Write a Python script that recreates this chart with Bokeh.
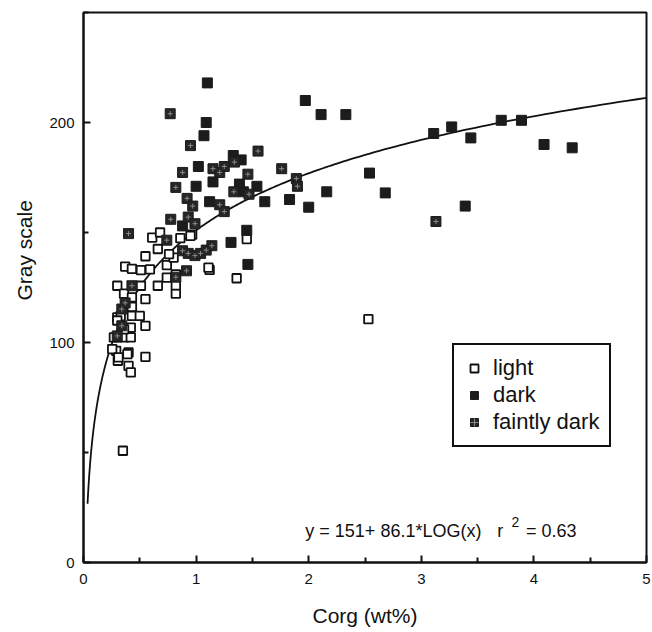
from bokeh.plotting import figure
from bokeh.models import Range1d, FixedTicker, Legend, LegendItem, Label, Title
from bokeh.embed import file_html
from bokeh.resources import INLINE
import numpy as np

# ---- data ----
light_x = [0.61, 0.68, 0.86, 0.965, 0.66, 0.55, 0.37, 0.43, 0.51, 0.59, 0.74, 0.80, 0.76,
           1.12, 1.36, 0.30, 0.36, 0.51, 0.66, 0.82, 0.82, 0.55, 0.43, 0.30, 0.43, 0.43,
           0.50, 0.55, 0.42, 0.30, 0.36, 0.42, 0.29, 0.305, 0.40, 0.55, 0.40, 0.42, 0.35,
           2.53, 1.45, 1.11, 0.74, 0.82, 0.33, 0.30, 0.36, 0.27, 0.255, 0.39, 0.31, 0.95]
light_y = [147.7, 150.0, 147.4, 149.0, 142.5, 139.2, 134.5, 133.5, 132.9, 133.2, 135.2, 138.6, 140.2,
           133.0, 129.2, 125.8, 122.2, 125.8, 125.8, 122.2, 126.0, 119.7, 120.5, 111.4, 116.2, 112.1,
           112.1, 107.6, 106.8, 102.3, 102.3, 102.3, 96.2, 91.7, 95.5, 93.5, 89.4, 86.4, 50.8,
           110.6, 147.0, 134.0, 129.5, 131.0, 112.0, 110.0, 106.0, 102.3, 97.0, 94.7, 93.2, 148.5]

dark_x = [1.10, 1.09, 1.07, 1.33, 1.02, 1.40, 1.15, 1.00, 1.385, 1.42, 1.54, 1.61, 1.83,
          2.00, 2.16, 1.97, 2.11, 2.33, 1.12, 0.88, 1.45, 1.31, 1.46, 2.54, 2.68, 3.11,
          3.27, 3.44, 3.71, 3.89, 4.09, 4.34, 3.39]
dark_y = [218.0, 200.0, 194.0, 185.0, 180.0, 183.0, 173.0, 171.0, 172.0, 168.5, 171.0, 164.0, 165.0,
          161.5, 168.5, 210.0, 203.6, 203.6, 164.0, 153.0, 151.0, 145.5, 135.5, 177.0, 168.0, 195.0,
          198.0, 193.0, 201.0, 201.0, 190.0, 188.5, 162.0]

faint_x = [0.77, 0.95, 1.55, 0.88, 1.15, 1.21, 1.25, 1.34, 1.76, 1.46, 1.335, 1.47, 1.89,
           1.90, 0.92, 0.97, 1.21, 1.25, 0.775, 0.93, 0.99, 0.40, 0.74, 0.82, 0.88, 0.93,
           0.99, 1.04, 1.09, 1.14, 0.915, 0.82, 0.43, 0.34, 0.34, 3.13, 0.37, 0.30]
faint_y = [204.0, 189.5, 187.0, 177.3, 179.0, 177.3, 180.0, 182.0, 179.0, 176.5, 168.5, 167.4, 174.5,
           171.0, 165.5, 162.0, 162.6, 159.5, 156.0, 157.0, 154.0, 149.5, 146.5, 170.5, 141.7, 140.5,
           139.5, 140.5, 142.0, 144.0, 132.6, 129.7, 125.8, 115.2, 107.6, 155.0, 118.0, 103.0]

# regression: y = a + b*log10(x)
fit_a = 151.0
fit_b = 86.1
fit_xmin = 0.036
fit_xmax = 5.0

x_ticks = [0, 1, 2, 3, 4, 5]
x_minor = [0.5, 1.5, 2.5, 3.5, 4.5]
y_ticks = [0, 100, 200]
y_minor = [50, 150, 250]

FONT = "Liberation Sans"
INK = "#111111"

p = figure(width=652, height=632, output_backend="svg", toolbar_location=None,
           x_range=Range1d(0, 5), y_range=Range1d(0, 250))
p.min_border_left = 83
p.min_border_right = 6
p.min_border_top = 12
p.min_border_bottom = 70
p.background_fill_color = "white"
p.border_fill_color = "white"
p.outline_line_color = INK
p.outline_line_alpha = 1.0
p.outline_line_width = 2
p.xgrid.visible = False
p.ygrid.visible = False

for ax, ticks, minor in ((p.xaxis[0], x_ticks, x_minor), (p.yaxis[0], y_ticks, y_minor)):
    ax.ticker = FixedTicker(ticks=ticks, minor_ticks=minor)
    ax.axis_line_color = INK
    ax.axis_line_width = 2
    ax.major_tick_in = 7
    ax.major_tick_out = 0
    ax.minor_tick_in = 5
    ax.minor_tick_out = 0
    ax.major_tick_line_width = 2
    ax.minor_tick_line_width = 2
    ax.major_tick_line_color = INK
    ax.minor_tick_line_color = INK
    ax.major_label_text_font = FONT
    ax.major_label_text_font_size = "15px"
    ax.major_label_text_color = INK
    ax.axis_label_text_font = FONT
    ax.axis_label_text_font_style = "normal"
    ax.axis_label_text_font_size = "21px"
    ax.axis_label_text_color = INK

p.xaxis[0].axis_label = "Corg (wt%)"
p.xaxis[0].major_label_standoff = 11
p.xaxis[0].axis_label_standoff = 17
p.yaxis[0].major_label_standoff = 9

# y-axis title placed as in the reference (above the frame centre)
ytitle = Title(text="Gray scale", align="left", offset=262, vertical_align="middle",
               text_font=FONT, text_font_size="21px", text_font_style="normal",
               text_color=INK, standoff=19)
p.add_layout(ytitle, "left")

# fit curve
fx = 10 ** np.linspace(np.log10(fit_xmin), np.log10(fit_xmax), 300)
fy = fit_a + fit_b * np.log10(fx)
p.line(fx, fy, line_color=INK, line_width=1.8)

# points
r_light = p.scatter(light_x, light_y, marker="square", size=8.5, fill_color="white",
                    line_color=INK, line_width=1.8)
r_dark = p.scatter(dark_x, dark_y, marker="square", size=10, fill_color="#1c1c1c",
                   line_color="#1c1c1c", line_width=1)
r_faint = p.scatter(faint_x, faint_y, marker="square", size=10, fill_color="#262626",
                    line_color="#1c1c1c", line_width=1)
r_faint_c = p.scatter(faint_x, faint_y, marker="cross", size=5, line_color="#8a8a8a",
                      line_width=1)

legend = Legend(items=[LegendItem(label="light", renderers=[r_light]),
                       LegendItem(label="dark", renderers=[r_dark]),
                       LegendItem(label="faintly dark", renderers=[r_faint, r_faint_c])],
                location=(369, 115))
legend.label_text_font = FONT
legend.label_text_font_size = "22px"
legend.label_text_color = INK
legend.glyph_width = 20
legend.glyph_height = 24
legend.label_height = 26
legend.label_standoff = 9
legend.spacing = 1
legend.padding = 10
legend.margin = 0
legend.border_line_color = INK
legend.border_line_alpha = 1.0
legend.border_line_width = 2
legend.background_fill_alpha = 1.0
p.add_layout(legend, "center")

# equation annotation
eq_kw = dict(text_font=FONT, text_color=INK, text_baseline="alphabetic")
p.add_layout(Label(x=1.97, y=14.4, text="y = 151+ 86.1*LOG(x)", text_font_size="18px", **eq_kw))
p.add_layout(Label(x=3.674, y=14.4, text="r", text_font_size="18px", **eq_kw))
p.add_layout(Label(x=3.80, y=18.5, text="2", text_font_size="14px", **eq_kw))
p.add_layout(Label(x=3.93, y=14.4, text="= 0.63", text_font_size="18px", **eq_kw))

open("out.html", "w").write(file_html(p, INLINE))
